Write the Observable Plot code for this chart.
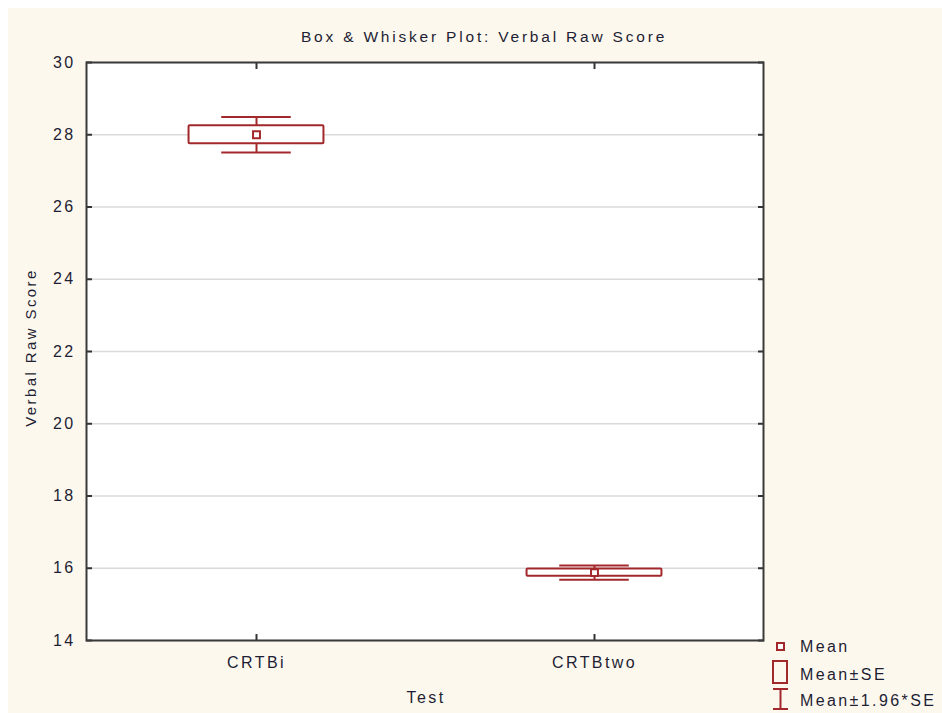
<!DOCTYPE html>
<html>
<head>
<meta charset="utf-8">
<script src="https://cdn.jsdelivr.net/npm/d3@7"></script>
<script src="https://cdn.jsdelivr.net/npm/@observablehq/plot@0.6"></script>
<style>
  html, body { margin: 0; padding: 0; background: #ffffff; }
  #wrap { position: relative; width: 942px; height: 713px; overflow: hidden; background: #ffffff; }
  #bg { position: absolute; left: 8px; top: 8px; width: 934px; height: 705px; background: #fdf8ee; }
  #chart { position: absolute; left: 0; top: 0; }
  .txt { position: absolute; font-family: "Liberation Sans", Arial, sans-serif; color: #1e1e34; white-space: nowrap; }
  #title { top: 28px; left: 484px; transform: translateX(-50%); font-size: 15.5px; letter-spacing: 2.8px; }
  #legend { position: absolute; left: 768px; top: 632px; }
  #legend text { letter-spacing: 2.4px; }
</style>
</head>
<body>
<div id="wrap">
  <div id="bg"></div>
  <div id="chart"></div>
  <div class="txt" id="title">Box &amp; Whisker Plot: Verbal Raw Score</div>
  <svg id="legend" width="174" height="81" font-family="Liberation Sans, Arial, sans-serif" font-size="16" fill="#1e1e34">
  </svg>
</div>
<script>
const categories = ["CRTBi", "CRTBtwo"];
const means = [28.0, 15.88];
const stdErrors = [0.25, 0.1];
const yTicks = [14, 16, 18, 20, 22, 24, 26, 28, 30];
const xLabel = "Test";
const yLabel = "Verbal Raw Score";
const legendLabels = ["Mean", "Mean\u00b1SE", "Mean\u00b11.96*SE"];

const color = "#a3282c";
const rows = categories.map((c, i) => ({
  test: c,
  mean: means[i],
  seLo: means[i] - stdErrors[i],
  seHi: means[i] + stdErrors[i],
  wLo: means[i] - 1.96 * stdErrors[i],
  wHi: means[i] + 1.96 * stdErrors[i]
}));

const W = 942, H = 713;
const mL = 86, mR = 179, mT = 62, mB = 73;
const band = (W - mL - mR) / categories.length;
const boxInset = band * 0.3;
const capInset = (band - 70) / 2;

const plot = Plot.plot({
  width: W,
  height: H,
  marginLeft: mL,
  marginRight: mR,
  marginTop: mT,
  marginBottom: mB,
  style: { background: "transparent", fontFamily: "Liberation Sans, Arial, sans-serif", fontSize: "16px", color: "#1e1e34", overflow: "visible" },
  x: { type: "band", domain: categories, padding: 0, label: null },
  y: { domain: [14, 30], ticks: yTicks, label: null },
  marks: [
    Plot.frame({ fill: "white", stroke: null }),
    Plot.gridY(yTicks, { stroke: "#dadada", strokeOpacity: 1, strokeWidth: 1.5 }),
    // axis texts
    Plot.axisY(yTicks, { anchor: "left", tickSize: 0, tickPadding: 11, label: null, fontSize: 16 }),
    Plot.axisX({ anchor: "bottom", tickSize: 0, tickPadding: 16, label: null, fontSize: 16 }),
    // inward ticks
    Plot.axisY(yTicks, { anchor: "left", tickSize: 6, insetLeft: 6, fill: "none", label: null, stroke: "#333", strokeWidth: 2 }),
    Plot.axisY(yTicks, { anchor: "right", tickSize: 6, insetRight: 6, fill: "none", label: null, stroke: "#333", strokeWidth: 2 }),
    Plot.axisX({ anchor: "bottom", tickSize: 6, insetBottom: 6, fill: "none", label: null, stroke: "#333", strokeWidth: 2 }),
    Plot.axisX({ anchor: "top", tickSize: 6, insetTop: 6, fill: "none", label: null, stroke: "#333", strokeWidth: 2 }),
    // whisker stems
    Plot.ruleX(rows, { x: "test", y1: "seHi", y2: "wHi", stroke: color, strokeWidth: 2 }),
    Plot.ruleX(rows, { x: "test", y1: "seLo", y2: "wLo", stroke: color, strokeWidth: 2 }),
    // caps
    Plot.tickY(rows, { x: "test", y: "wHi", stroke: color, strokeWidth: 2, insetLeft: capInset, insetRight: capInset }),
    Plot.tickY(rows, { x: "test", y: "wLo", stroke: color, strokeWidth: 2, insetLeft: capInset, insetRight: capInset }),
    // SE box
    Plot.barY(rows, { x: "test", y1: "seLo", y2: "seHi", fill: "white", stroke: color, strokeWidth: 2, insetLeft: boxInset, insetRight: boxInset, rx: 1 }),
    // mean
    Plot.dot(rows, { x: "test", y: "mean", symbol: "square", r: 3.9, fill: "white", stroke: color, strokeWidth: 2 }),
    Plot.frame({ stroke: "#3a3a3a", strokeWidth: 2 }),
    // axis titles
    Plot.text([xLabel], { frameAnchor: "bottom", dy: 62, dx: 1, text: d => d, fontSize: 16 }),
    Plot.text([yLabel], { frameAnchor: "left", textAnchor: "middle", dx: -55, dy: -4, rotate: -90, text: d => d, fontSize: 15, ariaLabel: "ylabel" })
  ]
});
d3.select(plot).selectAll("text").attr("letter-spacing", "2.4px");
d3.select(plot).selectAll('g[aria-label="ylabel"] text').attr("letter-spacing", "1.8px");
document.getElementById("chart").appendChild(plot);

// legend
const lg = d3.select("#legend");
lg.append("rect").attr("x", 9).attr("y", 11).attr("width", 7).attr("height", 7).attr("fill", "white").attr("stroke", color).attr("stroke-width", 2);
lg.append("text").attr("x", 32).attr("y", 20).text(legendLabels[0]);
lg.append("rect").attr("x", 5).attr("y", 29).attr("width", 14).attr("height", 22).attr("fill", "none").attr("stroke", color).attr("stroke-width", 2);
lg.append("text").attr("x", 32).attr("y", 48).text(legendLabels[1]);
lg.append("line").attr("x1", 5).attr("x2", 20).attr("y1", 57).attr("y2", 57).attr("stroke", color).attr("stroke-width", 2);
lg.append("line").attr("x1", 5).attr("x2", 20).attr("y1", 77).attr("y2", 77).attr("stroke", color).attr("stroke-width", 2);
lg.append("line").attr("x1", 12.5).attr("x2", 12.5).attr("y1", 57).attr("y2", 77).attr("stroke", color).attr("stroke-width", 2);
lg.append("text").attr("x", 32).attr("y", 74).text(legendLabels[2]);
</script>
</body>
</html>
